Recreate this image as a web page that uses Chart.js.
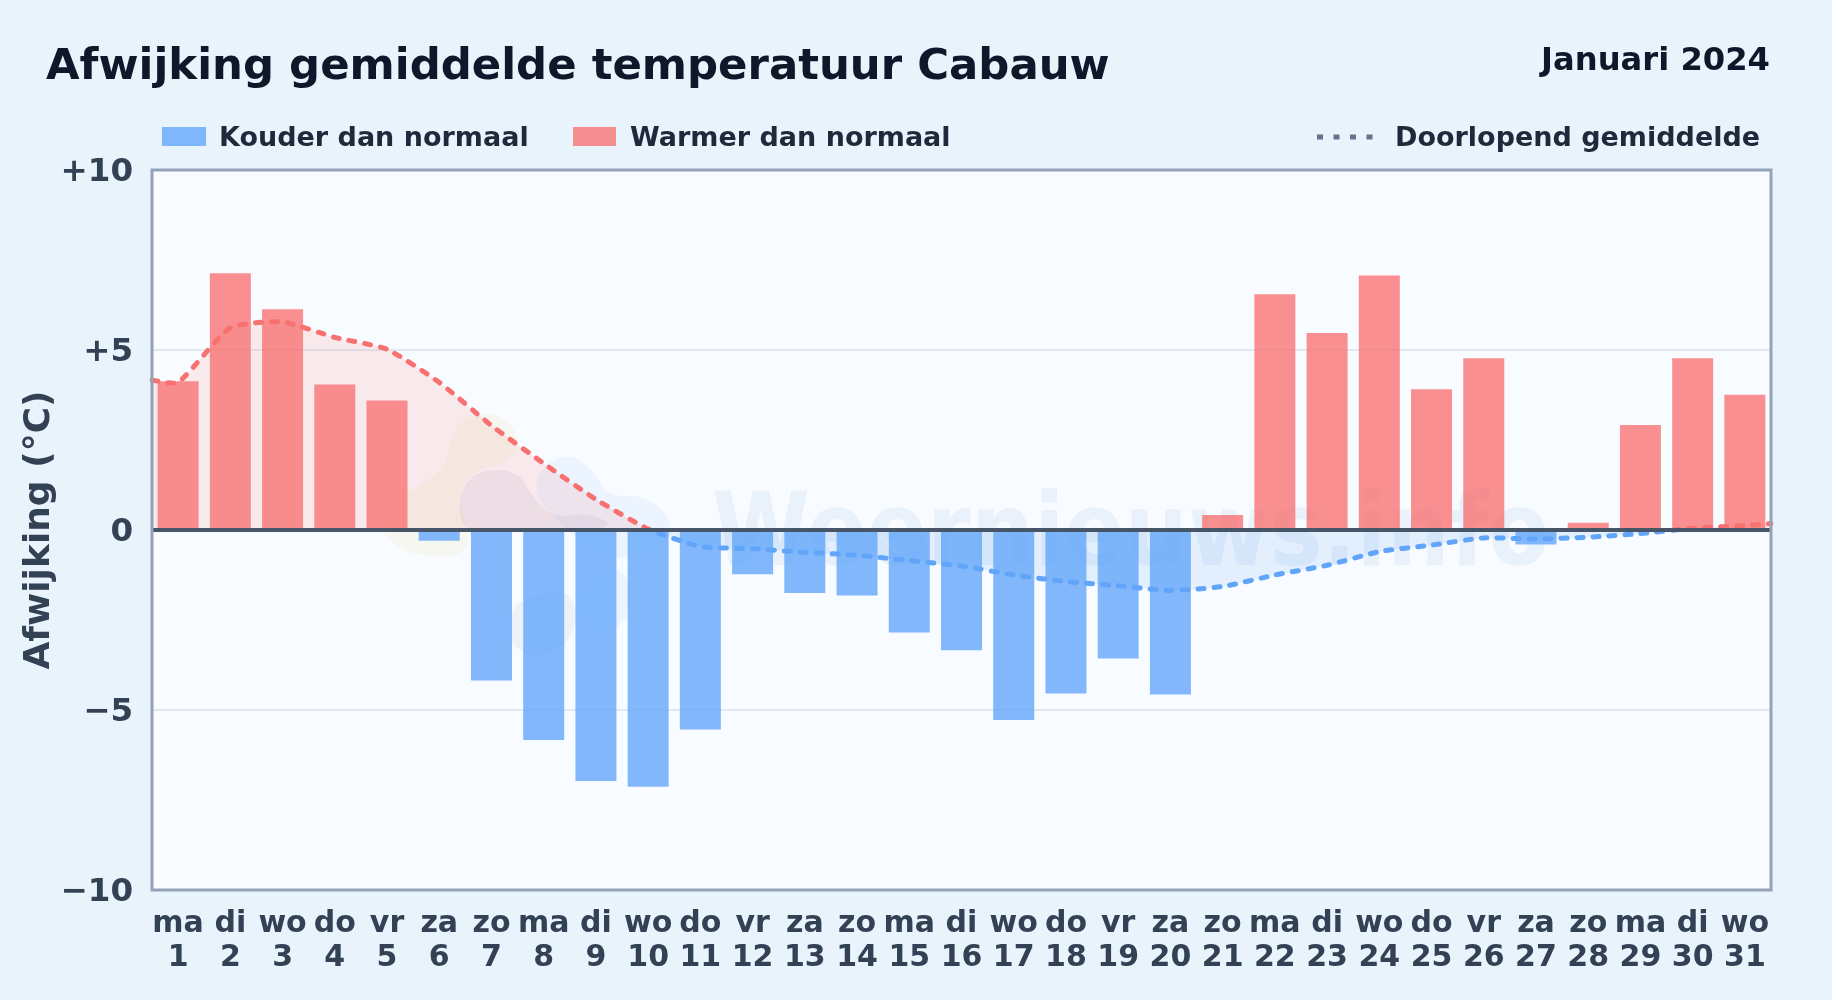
<!DOCTYPE html>
<html>
<head>
<meta charset="utf-8">
<style>
  html, body { margin: 0; padding: 0; background: #e9f3fc; }
  canvas { display: block; }
</style>
<script src="https://cdn.jsdelivr.net/npm/chart.js@4"></script>
</head>
<body>
<canvas id="grafiek" width="1832" height="1000"></canvas>
<script>
const weekdagen = ["ma","di","wo","do","vr","za","zo","ma","di","wo","do","vr","za","zo","ma","di","wo","do","vr","za","zo","ma","di","wo","do","vr","za","zo","ma","di","wo"]
const dagen = ["1","2","3","4","5","6","7","8","9","10","11","12","13","14","15","16","17","18","19","20","21","22","23","24","25","26","27","28","29","30","31"]
const afwijking = [4.13,7.13,6.13,4.04,3.6,-0.3,-4.18,-5.83,-6.97,-7.13,-5.54,-1.23,-1.75,-1.82,-2.85,-3.34,-5.28,-4.54,-3.57,-4.57,0.42,6.55,5.47,7.07,3.91,4.77,-0.4,0.2,2.92,4.77,3.76]
// doorlopend gemiddelde loopt door tot aan beide randen van de grafiek
const gemiddeldeDag = [0.5,1,2,3,4,5,6,7,8,9,10,11,12,13,14,15,16,17,18,19,20,21,22,23,24,25,26,27,28,29,30,31,31.5]
const gemiddelde = [4.16,4.1,5.62,5.78,5.35,5.02,4.1,2.9,1.85,0.85,0.03,-0.46,-0.52,-0.62,-0.7,-0.85,-1.0,-1.25,-1.43,-1.55,-1.68,-1.57,-1.25,-0.98,-0.6,-0.42,-0.22,-0.25,-0.2,-0.1,0.05,0.12,0.18]

const fontNaam = '"DejaVu Sans"'
const rood = "rgba(248,113,113,0.78)"
const blauw = "rgba(96,165,250,0.78)"

function blob(ctx, punten) {
  ctx.beginPath()
  const n = punten.length
  ctx.moveTo((punten[n-1][0] + punten[0][0]) / 2, (punten[n-1][1] + punten[0][1]) / 2)
  for (let i = 0; i < n; i++) {
    const p = punten[i], q = punten[(i + 1) % n]
    ctx.quadraticCurveTo(p[0], p[1], (p[0] + q[0]) / 2, (p[1] + q[1]) / 2)
  }
  ctx.closePath()
  ctx.fill()
}

// Achtergrond van het plotvlak en het watermerk
const achtergrond = {
  id: "achtergrond",
  beforeDraw(chart) {
    const { ctx, chartArea: a } = chart
    ctx.save()
    ctx.fillStyle = "#f8fbff"
    ctx.fillRect(a.left, a.top, a.right - a.left, a.bottom - a.top)
    ctx.restore()
  },
  beforeDatasetsDraw(chart) {
    const { ctx } = chart
    ctx.save()
    // logo: zon, wolk, regen
    ctx.fillStyle = "rgba(234,210,90,0.09)"
    blob(ctx, [[453,423],[493,410],[520,433],[513,462],[473,470],[457,497],[475,555],[417,558],[378,535],[395,497],[423,485],[448,463]])
    ctx.fillStyle = "rgba(125,110,170,0.09)"
    blob(ctx, [[458,497],[475,470],[517,470],[533,497],[553,518],[592,512],[618,530],[493,533],[462,530]])
    ctx.fillStyle = "rgba(96,165,250,0.08)"
    blob(ctx, [[535,475],[563,452],[592,467],[607,497],[647,495],[675,523],[660,552],[622,562],[580,542],[560,522],[538,502]])
    blob(ctx, [[573,590],[627,560],[632,625],[587,632]])
    ctx.fillStyle = "rgba(125,150,190,0.09)"
    blob(ctx, [[507,617],[523,598],[573,587],[577,635],[543,660],[508,645]])
    // naam, iets smaller dan de gewone vette letter
    ctx.fillStyle = "rgba(90,145,215,0.09)"
    ctx.font = "bold 102px " + fontNaam
    ctx.textBaseline = "alphabetic"
    ctx.translate(712, 565)
    ctx.scale(0.87, 1)
    ctx.fillText("Weernieuws.info", 0, 0)
    ctx.restore()
  },
  afterDatasetsDraw(chart) {
    const { ctx, chartArea: a, scales } = chart
    const nul = scales.y.getPixelForValue(0)
    ctx.save()
    ctx.strokeStyle = "#475569"
    ctx.lineWidth = 4
    ctx.beginPath()
    ctx.moveTo(a.left, nul)
    ctx.lineTo(a.right, nul)
    ctx.stroke()
    ctx.strokeStyle = "#94a3b8"
    ctx.lineWidth = 3
    ctx.strokeRect(a.left, a.top, a.right - a.left, a.bottom - a.top)
    ctx.restore()
  },
}

// Titel, datum en legenda boven de grafiek
const koptekst = {
  id: "koptekst",
  afterDraw(chart) {
    const { ctx } = chart
    ctx.save()
    ctx.textBaseline = "alphabetic"
    ctx.fillStyle = "#0f172a"
    ctx.font = "bold 43.4px " + fontNaam
    ctx.fillText("Afwijking gemiddelde temperatuur Cabauw", 46, 79)
    ctx.font = "bold 32.2px " + fontNaam
    ctx.textAlign = "right"
    ctx.fillText("Januari 2024", 1770, 70)
    ctx.textAlign = "left"

    ctx.fillStyle = blauw
    ctx.fillRect(162, 127, 44, 19)
    ctx.fillStyle = rood
    ctx.fillRect(573, 127, 43, 19)
    ctx.strokeStyle = "#64748b"
    ctx.lineWidth = 5
    ctx.setLineDash([6, 10.5])
    ctx.beginPath()
    ctx.moveTo(1317, 137)
    ctx.lineTo(1374, 137)
    ctx.stroke()
    ctx.setLineDash([])

    ctx.fillStyle = "#1e293b"
    ctx.font = "bold 27px " + fontNaam
    ctx.fillText("Kouder dan normaal", 219, 146)
    ctx.fillText("Warmer dan normaal", 630, 146)
    ctx.fillText("Doorlopend gemiddelde", 1395, 146)
    ctx.restore()
  },
}

// kleur van de lijn wisselt op de nullijn
function lijnKleur(context) {
  const { chart } = context
  const a = chart.chartArea
  if (!a) return "#f87171"
  const nul = (chart.scales.y.getPixelForValue(0) - a.top) / (a.bottom - a.top)
  const g = chart.ctx.createLinearGradient(0, a.top, 0, a.bottom)
  g.addColorStop(0, "#f87171")
  g.addColorStop(nul, "#f87171")
  g.addColorStop(nul, "#60a5fa")
  g.addColorStop(1, "#60a5fa")
  return g
}

new Chart(document.getElementById("grafiek"), {
  data: {
    labels: dagen.map((d, i) => [weekdagen[i], d]),
    datasets: [
      {
        type: "line",
        label: "Doorlopend gemiddelde",
        // x als positie op de categorie-as, zodat de lijn ook tussen de dagen kan beginnen
        parsing: false,
        data: gemiddeldeDag.map((d, i) => ({ x: d - 1, y: gemiddelde[i] })),
        borderColor: lijnKleur,
        borderWidth: 5,
        borderDash: [6, 10],
        borderCapStyle: "round",
        pointRadius: 0,
        tension: 0.18,
        fill: { target: { value: 0 }, above: "rgba(248,113,113,0.13)", below: "rgba(96,165,250,0.13)" },
        order: 0,
      },
      {
        type: "bar",
        label: "Afwijking",
        data: afwijking,
        backgroundColor: afwijking.map(v => (v < 0 ? blauw : rood)),
        categoryPercentage: 1,
        barPercentage: 0.785,
        order: 1,
      },
    ],
  },
  options: {
    responsive: false,
    animation: false,
    layout: { padding: { left: 0, top: 170, right: 61, bottom: 0 } },
    plugins: { legend: { display: false }, title: { display: false }, tooltip: { enabled: false } },
    scales: {
      x: {
        grid: { display: false },
        border: { display: false },
        ticks: {
          color: "#334155",
          font: { family: fontNaam, size: 30, weight: "bold", lineHeight: 1.13 },
          padding: 9,
          maxRotation: 0,
          autoSkip: false,
        },
        afterFit(scale) { scale.height = 110 },
      },
      y: {
        min: -10,
        max: 10,
        ticks: {
          stepSize: 5,
          color: "#334155",
          padding: 19,
          labelOffset: 2.5,
          font: { family: fontNaam, size: 32.5, weight: "bold" },
          callback: v => (v > 0 ? "+" + v : v < 0 ? "\u2212" + Math.abs(v) : "0"),
        },
        grid: {
          drawTicks: false,
          color: "#e2e8f0",
          lineWidth: 2,
        },
        border: { display: false },
        title: {
          display: true,
          text: "Afwijking (°C)",
          color: "#334155",
          font: { family: fontNaam, size: 36, weight: "bold" },
          padding: { top: 18, bottom: 0 },
        },
        afterFit(scale) { scale.width = 152 },
      },
    },
  },
  plugins: [achtergrond, koptekst],
})
</script>
</body>
</html>
